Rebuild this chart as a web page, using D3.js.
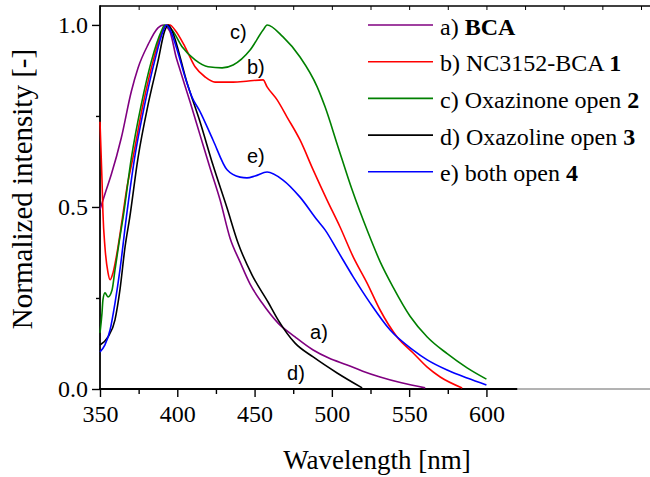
<!DOCTYPE html>
<html>
<head>
<meta charset="utf-8">
<script src="https://cdn.jsdelivr.net/npm/d3@7"></script>
<style>
  body { margin: 0; background: #fff; }
  svg { display: block; }
</style>
</head>
<body>
<svg id="chart" width="650" height="477"></svg>
<script>
// Normalized emission spectra: [wavelength nm, normalized intensity]
const bcaSpectrum = [
  [350,0.493],[353.5,0.54],[357.3,0.589],[363.8,0.69],[370.3,0.818],[374.6,0.882],
  [381.1,0.946],[387.5,0.992],[390.8,1.0],[395.1,0.983],[399.4,0.909],[401.8,0.876],
  [408.3,0.788],[414.7,0.698],[421.2,0.607],[427.7,0.519],[434.1,0.415],[440.6,0.349],
  [447.1,0.288],[454.9,0.236],[465.2,0.181],[476.2,0.143],[487.9,0.107],[498,0.085],
  [509.9,0.066],[520,0.049],[531.2,0.033],[545,0.017],[560.4,0.003]
];
const nc3152Spectrum = [
  [350,0.734],[351.3,0.574],[351.9,0.484],[353.2,0.39],[355.2,0.319],[356.5,0.30],
  [358.4,0.319],[361,0.374],[364.5,0.47],[367.5,0.555],[371.3,0.635],[377.8,0.781],
  [384.3,0.9],[390.3,0.983],[393,1.0],[395.3,1.0],[398.5,0.986],[405,0.94],
  [411.5,0.885],[418,0.857],[424.4,0.843],[436.1,0.843],[446,0.846],[455.5,0.849],
  [458.1,0.83],[464.6,0.794],[471,0.747],[479.4,0.684],[487.9,0.602],[496.9,0.519],
  [505.3,0.445],[513.8,0.363],[522.8,0.291],[531.2,0.217],[542.2,0.143],[552.6,0.099],
  [561.7,0.06],[570.1,0.033],[584.3,0.003]
];
const oxazinoneSpectrum = [
  [350,0.154],[351.3,0.209],[351.9,0.245],[353.2,0.264],[355.2,0.253],[357.8,0.272],
  [359.7,0.327],[362.9,0.418],[364.9,0.47],[370.3,0.635],[376.7,0.781],[383.2,0.9],
  [389.7,0.983],[391.8,1.0],[394,0.995],[396.6,0.986],[403.1,0.94],
  [411.5,0.904],[419.9,0.885],[429,0.882],[436.1,0.89],[447.1,0.931],[455.5,0.986],
  [458.1,1.0],[468.4,0.967],[479.4,0.912],[490.5,0.83],[495.6,0.775],[504,0.665],
  [513.1,0.547],[523.5,0.429],[531.2,0.35],[539.6,0.28],[550.6,0.2],[561.7,0.143],
  [574.6,0.097],[587.5,0.058],[600,0.027]
];
const oxazolineSpectrum = [
  [350,0.121],[355.2,0.143],[359.7,0.19],[362.9,0.272],[366.2,0.39],[369.2,0.47],
  [374.6,0.635],[381.1,0.781],[387.5,0.9],[391.8,0.983],[394,1.0],[396,0.99],
  [397.2,0.978],[406.3,0.841],[414.7,0.734],[423.1,0.615],[432.2,0.497],
  [439.3,0.401],[448.4,0.313],[458.7,0.239],[465.2,0.19],[476.2,0.126],[487.9,0.088],
  [503.4,0.044],[519.6,0.003]
];
const bothOpenSpectrum = [
  [350,0.102],[353.2,0.121],[356.5,0.162],[359.7,0.236],[362.9,0.327],[367,0.47],
  [372.4,0.635],[378.9,0.781],[385.3,0.9],[390.8,0.983],[392.9,1.0],[395,0.99],
  [397.2,0.967],[400.5,0.923],[405,0.857],[409.5,0.802],
  [414.7,0.762],[423.1,0.684],[432.2,0.602],[440.6,0.582],[445.1,0.58],[450.3,0.585],
  [458.1,0.596],[468.4,0.574],[479.4,0.527],[490.5,0.464],[495.6,0.437],[503.4,0.382],
  [513.8,0.308],[524.8,0.236],[537.7,0.162],[552.6,0.107],[561.7,0.08],[574.6,0.052],
  [587.5,0.03],[600,0.011]
];

const seriesData = [bcaSpectrum, nc3152Spectrum, oxazinoneSpectrum, oxazolineSpectrum, bothOpenSpectrum];
const seriesColors = ["#800080", "#ff0000", "#008000", "#000000", "#0000ff"];
// legend entries: [plain part, bold part]
const legendLabels = [
  ["a) ", "BCA"],
  ["b) NC3152-BCA ", "1"],
  ["c) Oxazinone open ", "2"],
  ["d) Oxazoline open ", "3"],
  ["e) both open ", "4"]
];
// curve tags placed in data coordinates
const curveTags = [
  { text: "c)", wl: 434.1, val: 0.962 },
  { text: "b)", wl: 445.1, val: 0.865 },
  { text: "e)", wl: 445.1, val: 0.621 },
  { text: "a)", wl: 485.9, val: 0.137 },
  { text: "d)", wl: 471.0, val: 0.025 }
];
const xMajorTicks = [350, 400, 450, 500, 550, 600];
const xMinorTicks = [375, 425, 475, 525, 575];
const yMajorTicks = [0, 0.5, 1.0];
const yMinorTicks = [0.25, 0.75];

const W = 650, H = 477;
const plotLeft = 100, plotBottom = 389, plotTop = 6;
const serif = "'Liberation Serif', 'Times New Roman', serif";
const sans = "'Liberation Sans', Arial, sans-serif";

const svg = d3.select("#chart");
const x = d3.scaleLinear().domain([350, 700]).range([plotLeft, 641]);
const y = d3.scaleLinear().domain([0, 1.052]).range([plotBottom, plotTop]);

// top frame with inward ticks
const topAxis = d3.axisBottom(x).tickValues(d3.range(350, 725, 25)).tickSize(4).tickFormat("");
const gTop = svg.append("g").attr("transform", `translate(0,${plotTop})`).call(topAxis);
gTop.select(".domain").remove();
gTop.selectAll("line").attr("stroke", "#000").attr("stroke-width", 1);
svg.append("line").attr("x1", plotLeft).attr("x2", W).attr("y1", plotTop).attr("y2", plotTop)
  .attr("stroke", "#000").attr("stroke-width", 1.6);

// bottom axis
const gBottom = svg.append("g").attr("transform", `translate(0,${plotBottom})`)
  .call(d3.axisBottom(x).tickValues(xMajorTicks).tickSize(8).tickPadding(8).tickFormat(d3.format("d")));
gBottom.select(".domain").remove();
gBottom.selectAll("line").attr("stroke", "#000").attr("stroke-width", 1.4);
gBottom.selectAll("text").attr("font-family", serif).attr("font-size", 24).attr("fill", "#000");
const gBottomMinor = svg.append("g").attr("transform", `translate(0,${plotBottom})`)
  .call(d3.axisBottom(x).tickValues(xMinorTicks).tickSize(5).tickFormat(""));
gBottomMinor.select(".domain").remove();
gBottomMinor.selectAll("line").attr("stroke", "#000").attr("stroke-width", 1.4);
svg.append("line").attr("x1", x(620)).attr("x2", W).attr("y1", plotBottom).attr("y2", plotBottom)
  .attr("stroke", "#666").attr("stroke-width", 1);
svg.append("line").attr("x1", plotLeft - 1).attr("x2", x(620)).attr("y1", plotBottom).attr("y2", plotBottom)
  .attr("stroke", "#000").attr("stroke-width", 1.8);

// left axis
const gLeft = svg.append("g").attr("transform", `translate(${plotLeft},0)`)
  .call(d3.axisLeft(y).tickValues(yMajorTicks).tickSize(8).tickPadding(4).tickFormat(d3.format(".1f")));
gLeft.select(".domain").remove();
gLeft.selectAll("line").attr("stroke", "#000").attr("stroke-width", 1.4);
gLeft.selectAll("text").attr("font-family", serif).attr("font-size", 24).attr("fill", "#000");
const gLeftMinor = svg.append("g").attr("transform", `translate(${plotLeft},0)`)
  .call(d3.axisLeft(y).tickValues(yMinorTicks).tickSize(4).tickFormat(""));
gLeftMinor.select(".domain").remove();
gLeftMinor.selectAll("line").attr("stroke", "#000").attr("stroke-width", 1.4);
svg.append("line").attr("x1", plotLeft).attr("x2", plotLeft).attr("y1", plotTop - 0.8).attr("y2", plotBottom + 0.8)
  .attr("stroke", "#000").attr("stroke-width", 1.8);

// axis titles
svg.append("text").attr("x", 377).attr("y", 469).attr("text-anchor", "middle")
  .attr("font-family", serif).attr("font-size", 27).text("Wavelength [nm]");
svg.append("text").attr("transform", "translate(32,189) rotate(-90)").attr("text-anchor", "middle")
  .attr("font-family", serif).attr("font-size", 29).text("Normalized intensity [-]");

// spectra
const line = d3.line().x(d => x(d[0])).y(d => y(d[1])).curve(d3.curveMonotoneX);
svg.append("g").selectAll("path").data(seriesData).join("path")
  .attr("d", line)
  .attr("fill", "none")
  .attr("stroke", (d, i) => seriesColors[i])
  .attr("stroke-width", 1.6)
  .attr("stroke-linejoin", "round");

// curve tags
svg.append("g").selectAll("text").data(curveTags).join("text")
  .attr("x", d => x(d.wl)).attr("y", d => y(d.val))
  .attr("font-family", sans).attr("font-size", 20).attr("fill", "#000")
  .text(d => d.text);

// legend
const legend = svg.append("g");
legendLabels.forEach((lab, i) => {
  const ry = 25 + i * 36.7;
  legend.append("line").attr("x1", 368).attr("x2", 433).attr("y1", ry).attr("y2", ry)
    .attr("stroke", seriesColors[i]).attr("stroke-width", 1.6);
  const t = legend.append("text").attr("x", 440).attr("y", ry + 9.5)
    .attr("font-family", serif).attr("font-size", 24).attr("fill", "#000");
  t.append("tspan").text(lab[0]);
  t.append("tspan").attr("font-weight", "bold").text(lab[1]);
});
</script>
</body>
</html>
